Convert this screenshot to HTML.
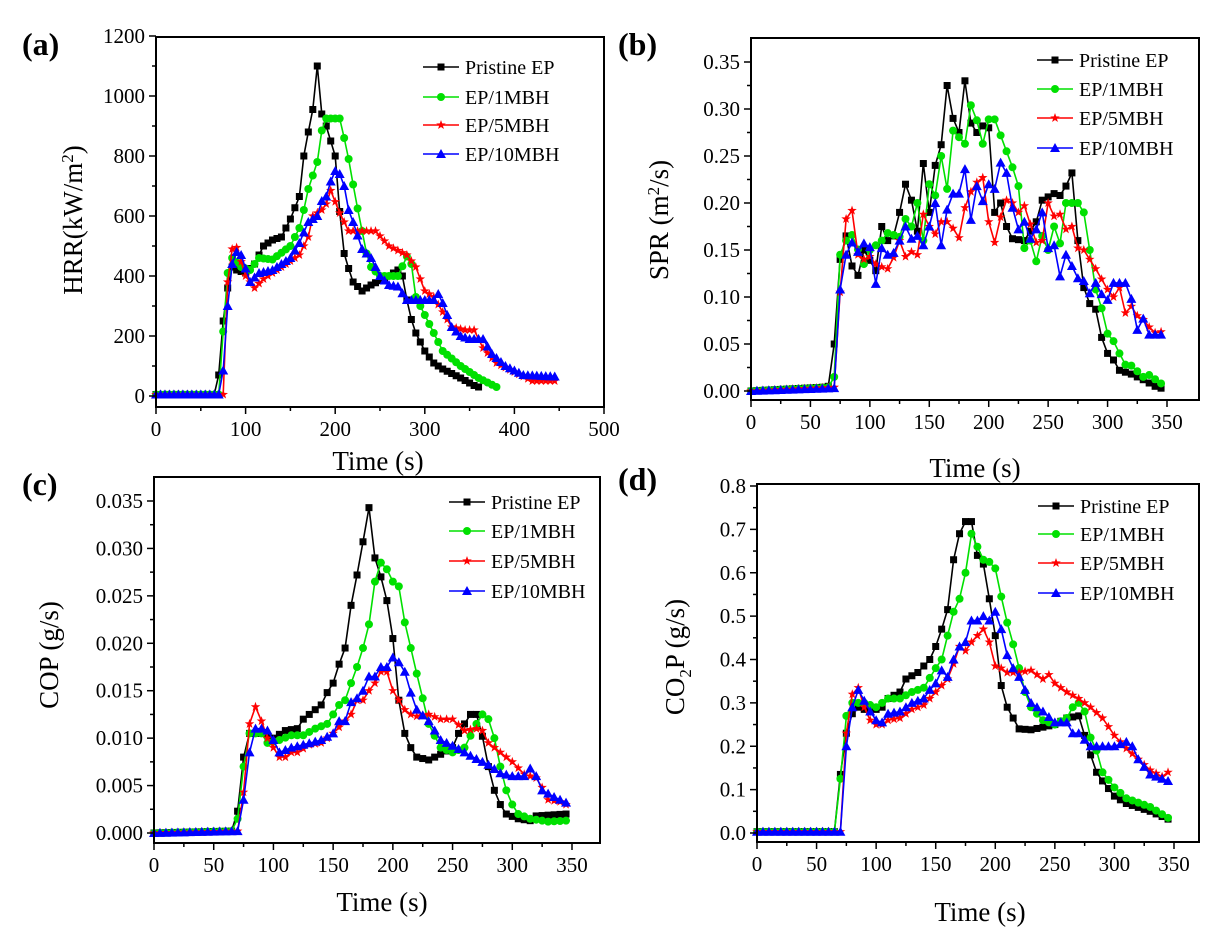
<!DOCTYPE html><html><head><meta charset="utf-8"><style>
html,body{margin:0;padding:0;background:#fff;}
svg{display:block;font-family:"Liberation Serif",serif;}
</style></head><body>
<svg id="s" width="1210" height="928" viewBox="0 0 1210 928" xmlns="http://www.w3.org/2000/svg">
<rect width="1210" height="928" fill="#fff"/>
<g font-weight="bold" font-size="32">
<text x="22" y="55">(a)</text><text x="618" y="55">(b)</text>
<text x="22" y="495">(c)</text><text x="618" y="490">(d)</text>
</g>
<g font-size="27">
<text transform="translate(82,220) rotate(-90)" text-anchor="middle">HRR(kW/m<tspan dy="-9" font-size="17">2</tspan><tspan dy="9">)</tspan></text>
<text transform="translate(668,220) rotate(-90)" text-anchor="middle">SPR (m<tspan dy="-9" font-size="17">2</tspan><tspan dy="9">/s)</tspan></text>
<text transform="translate(58,655) rotate(-90)" text-anchor="middle">COP (g/s)</text>
<text transform="translate(684,657) rotate(-90)" text-anchor="middle">CO<tspan dy="7" font-size="17">2</tspan><tspan dy="-7">P (g/s)</tspan></text>
<text x="378" y="470" text-anchor="middle">Time (s)</text>
<text x="975" y="477" text-anchor="middle">Time (s)</text>
<text x="382" y="911" text-anchor="middle">Time (s)</text>
<text x="980" y="921" text-anchor="middle">Time (s)</text>
</g>
<g id="plots"></g>
</svg>
<script>
var NS="http://www.w3.org/2000/svg",P=document.getElementById("plots");
function el(t,a,txt){var e=document.createElementNS(NS,t);for(var k in a)e.setAttribute(k,a[k]);if(txt!=null)e.textContent=txt;P.appendChild(e);return e;}
function interp(kp,t){if(t<=kp[0][0])return kp[0][1];for(var i=1;i<kp.length;i++){if(t<=kp[i][0]){var a=kp[i-1],b=kp[i];return a[1]+(b[1]-a[1])*(t-a[0])/(b[0]-a[0]);}}return null;}
var COL=["#000","#00e000","#ff0000","#0000ff"],NAMES=["Pristine EP","EP/1MBH","EP/5MBH","EP/10MBH"];
function marker(k,x,y){var c=COL[k];
 if(k==0)el("rect",{x:x-3.5,y:y-3.5,width:7,height:7,fill:c});
 else if(k==1)el("circle",{cx:x,cy:y,r:4,fill:c});
 else if(k==2){var p=[];for(var i=0;i<10;i++){var r=i%2?2:5,a=-Math.PI/2+i*Math.PI/5;p.push((x+r*Math.cos(a)).toFixed(1)+","+(y+r*Math.sin(a)).toFixed(1));}el("polygon",{points:p.join(" "),fill:c});}
 else el("polygon",{points:(x)+","+(y-5)+" "+(x-5)+","+(y+4)+" "+(x+5)+","+(y+4),fill:c});}
function panel(o){
 var X=function(v){return o.x0+(v-o.xmin)*(o.x1-o.x0)/(o.xmax-o.xmin)};
 var Y=function(v){return o.y0+(v-o.ymin)*(o.y1-o.y0)/(o.ymax-o.ymin)};
 for(var k=0;k<4;k++){var kp=o.d[k],last=kp[kp.length-1][0],pts=[];
  for(var t=0;t<=last;t+=5){pts.push([X(t),Y(interp(kp,t))]);}
  el("polyline",{points:pts.map(function(p){return p[0].toFixed(1)+","+p[1].toFixed(1)}).join(" "),fill:"none",stroke:COL[k],"stroke-width":1.6});
  pts.forEach(function(p){marker(k,p[0],p[1]);});
 }
 el("rect",{x:o.bx0,y:o.by0,width:o.bx1-o.bx0,height:o.by1-o.by0,fill:"none",stroke:"#000","stroke-width":2});
 for(var v=o.xmin;v<=o.xmax+1e-9;v+=o.xstep/2){var maj=Math.abs((v-o.xmin)/o.xstep-Math.round((v-o.xmin)/o.xstep))<1e-6;var x=X(v);
  el("line",{x1:x,y1:o.by1,x2:x,y2:o.by1+(maj?7:4),stroke:"#000","stroke-width":1.5});
  if(maj)el("text",{x:x,y:o.by1+29,"text-anchor":"middle","font-size":21},String(Math.round(v)));}
 for(var i=0;i<=o.ny*2;i++){var v=o.ymin+i*o.ystep/2,y=Y(v),maj=i%2==0;
  el("line",{x1:o.bx0,y1:y,x2:o.bx0-(maj?7:4),y2:y,stroke:"#000","stroke-width":1.5});
  if(maj)el("text",{x:o.bx0-11,y:y+7,"text-anchor":"end","font-size":21},v.toFixed(o.dec));}
 for(var k=0;k<4;k++){var ly=o.ly[k];
  el("line",{x1:o.lx,y1:ly,x2:o.lx+36,y2:ly,stroke:COL[k],"stroke-width":1.6});marker(k,o.lx+18,ly);
  el("text",{x:o.lx+42,y:ly+7,"font-size":20},NAMES[k]);}
}
panel({bx0:156,bx1:604,by0:37,by1:407,x0:156,x1:604,xmin:0,xmax:500,xstep:100,y0:396,y1:36,ymin:0,ymax:1200,ystep:200,ny:6,dec:0,lx:423,ly:[67,97,125,154],
d:[
[[0,5],[65,5],[70,70],[75,250],[80,360],[85,430],[90,420],[100,410],[110,440],[120,500],[130,520],[140,530],[150,590],[160,665],[165,800],[170,880],[175,955],[180,1100],[185,940],[190,900],[195,850],[200,800],[205,615],[210,475],[215,425],[220,380],[230,350],[240,370],[260,400],[270,420],[275,400],[280,320],[285,255],[290,210],[300,150],[310,110],[320,90],[340,60],[355,35],[360,30]],
[[0,5],[70,5],[75,215],[80,410],[85,460],[95,430],[105,420],[115,460],[130,455],[150,500],[160,560],[165,620],[170,690],[175,735],[180,780],[185,885],[190,925],[205,925],[210,860],[215,790],[220,705],[225,625],[230,550],[235,475],[240,430],[250,400],[270,400],[280,465],[285,440],[290,330],[300,270],[310,210],[320,150],[340,100],[360,60],[380,30]],
[[0,5],[75,5],[80,380],[85,490],[90,495],[100,400],[110,360],[120,390],[140,430],[160,470],[170,530],[175,600],[185,620],[190,640],[195,685],[205,610],[215,550],[230,550],[245,550],[260,500],[280,470],[290,430],[300,350],[310,330],[320,280],[330,230],[345,220],[355,220],[365,160],[380,110],[400,80],[420,50],[445,50]],
[[0,5],[70,5],[75,85],[80,300],[85,440],[90,480],[95,470],[105,380],[115,410],[130,420],[150,460],[160,510],[170,580],[180,600],[185,650],[190,665],[195,715],[200,750],[205,740],[210,700],[215,620],[220,580],[230,490],[240,460],[250,400],[260,370],[270,365],[280,320],[300,320],[310,320],[315,340],[320,310],[330,230],[340,200],[350,190],[365,190],[375,140],[390,100],[410,70],[445,65]]]});
panel({bx0:751,bx1:1199,by0:38,by1:400,x0:751,x1:1167,xmin:0,xmax:350,xstep:50,y0:391,y1:62,ymin:0,ymax:0.35,ystep:0.05,ny:7,dec:2,lx:1037,ly:[60,89,118,148],
d:[
[[0,0],[60,0.004],[65,0.005],[70,0.05],[75,0.14],[80,0.165],[85,0.133],[90,0.123],[95,0.15],[105,0.128],[110,0.175],[115,0.16],[120,0.165],[125,0.19],[130,0.22],[135,0.203],[140,0.17],[145,0.242],[150,0.19],[155,0.24],[160,0.262],[165,0.325],[170,0.29],[175,0.275],[180,0.33],[185,0.285],[190,0.275],[195,0.282],[200,0.28],[205,0.19],[210,0.2],[215,0.175],[220,0.162],[230,0.16],[240,0.18],[245,0.203],[255,0.21],[260,0.208],[265,0.218],[270,0.232],[275,0.16],[280,0.11],[285,0.093],[290,0.087],[295,0.057],[300,0.04],[305,0.033],[310,0.022],[320,0.018],[330,0.012],[340,0.005],[345,0.003]],
[[0,0],[65,0.004],[70,0.015],[75,0.145],[80,0.16],[85,0.166],[95,0.135],[100,0.15],[110,0.16],[115,0.168],[125,0.164],[130,0.183],[135,0.175],[140,0.2],[145,0.16],[150,0.22],[155,0.208],[160,0.25],[165,0.215],[170,0.277],[175,0.27],[180,0.263],[185,0.304],[190,0.288],[195,0.263],[200,0.289],[205,0.289],[210,0.272],[215,0.255],[220,0.238],[225,0.218],[230,0.152],[235,0.16],[240,0.138],[245,0.165],[250,0.15],[255,0.175],[260,0.157],[265,0.2],[275,0.2],[280,0.19],[285,0.15],[290,0.108],[295,0.088],[300,0.061],[305,0.053],[310,0.04],[315,0.028],[320,0.027],[330,0.015],[335,0.017],[345,0.008]],
[[0,0],[70,0.004],[75,0.105],[80,0.183],[85,0.192],[90,0.145],[95,0.14],[100,0.143],[105,0.135],[110,0.132],[115,0.13],[120,0.142],[125,0.16],[130,0.143],[135,0.148],[140,0.145],[145,0.188],[150,0.175],[155,0.167],[160,0.18],[165,0.18],[170,0.173],[175,0.163],[180,0.195],[185,0.212],[190,0.222],[195,0.227],[200,0.18],[205,0.158],[210,0.185],[215,0.203],[220,0.2],[225,0.19],[230,0.197],[240,0.158],[245,0.16],[250,0.2],[255,0.186],[260,0.188],[265,0.172],[270,0.175],[275,0.152],[280,0.15],[290,0.13],[300,0.108],[305,0.1],[310,0.11],[315,0.083],[320,0.09],[325,0.08],[330,0.076],[335,0.068],[340,0.062],[345,0.063]],
[[0,0],[70,0.003],[75,0.108],[80,0.145],[85,0.158],[90,0.148],[95,0.157],[100,0.153],[105,0.114],[110,0.152],[115,0.145],[120,0.147],[125,0.16],[130,0.175],[135,0.162],[140,0.165],[145,0.155],[150,0.175],[155,0.2],[160,0.155],[165,0.193],[170,0.21],[175,0.21],[180,0.236],[185,0.182],[190,0.218],[195,0.202],[200,0.22],[205,0.215],[210,0.243],[215,0.232],[220,0.195],[225,0.172],[230,0.18],[235,0.162],[240,0.172],[245,0.19],[250,0.152],[255,0.155],[260,0.122],[265,0.145],[270,0.133],[275,0.12],[280,0.117],[285,0.104],[290,0.115],[295,0.103],[300,0.097],[305,0.115],[310,0.115],[315,0.115],[320,0.098],[325,0.065],[330,0.077],[335,0.06],[340,0.06],[345,0.06]]]});
panel({bx0:154,bx1:600,by0:477,by1:843,x0:154,x1:572,xmin:0,xmax:350,xstep:50,y0:833,y1:501,ymin:0,ymax:0.035,ystep:0.005,ny:7,dec:3,lx:449,ly:[502,531,561,591],
d:[
[[0,0],[65,0.0002],[70,0.0023],[75,0.008],[80,0.0105],[90,0.0105],[100,0.01],[110,0.0108],[120,0.011],[125,0.012],[130,0.0125],[140,0.0135],[145,0.0148],[150,0.0158],[155,0.0178],[160,0.0195],[165,0.024],[170,0.0272],[175,0.0307],[180,0.0343],[185,0.029],[190,0.027],[195,0.0245],[200,0.0205],[205,0.014],[210,0.0105],[215,0.009],[220,0.008],[230,0.0077],[240,0.0083],[250,0.009],[255,0.0105],[260,0.0115],[265,0.0125],[270,0.0125],[275,0.0102],[280,0.007],[285,0.0045],[290,0.003],[295,0.002],[305,0.0015],[315,0.0013],[320,0.0018],[345,0.002]],
[[0,0],[65,0.0002],[70,0.0015],[75,0.007],[80,0.0105],[90,0.0105],[95,0.0095],[105,0.0098],[115,0.0103],[125,0.0103],[135,0.011],[145,0.0115],[150,0.0125],[155,0.0135],[160,0.014],[165,0.0158],[170,0.0175],[175,0.0195],[180,0.022],[185,0.0265],[190,0.0285],[195,0.0278],[200,0.0265],[205,0.026],[210,0.0222],[215,0.0195],[220,0.0168],[225,0.0142],[230,0.0115],[240,0.009],[250,0.0085],[260,0.009],[270,0.0115],[275,0.0125],[280,0.012],[285,0.01],[290,0.007],[295,0.0045],[300,0.003],[305,0.002],[315,0.0015],[330,0.0012],[345,0.0013]],
[[0,0],[70,0.0002],[75,0.0043],[80,0.0115],[85,0.0133],[90,0.0118],[95,0.01],[100,0.009],[105,0.008],[110,0.008],[115,0.0085],[120,0.0085],[130,0.0093],[140,0.0095],[150,0.0105],[160,0.0118],[165,0.0125],[170,0.014],[175,0.014],[180,0.015],[185,0.0158],[190,0.017],[195,0.017],[200,0.015],[205,0.014],[210,0.013],[215,0.0125],[220,0.0123],[230,0.0125],[240,0.012],[250,0.012],[260,0.0108],[270,0.011],[275,0.0108],[280,0.0095],[290,0.0085],[300,0.0075],[310,0.0062],[320,0.0058],[325,0.0048],[330,0.0035],[340,0.0033],[345,0.003]],
[[0,0],[70,0.0002],[75,0.0035],[80,0.0085],[85,0.011],[90,0.011],[95,0.0108],[100,0.0098],[105,0.0085],[115,0.009],[125,0.0093],[140,0.0098],[150,0.0105],[155,0.0118],[160,0.0118],[165,0.0138],[170,0.0142],[175,0.015],[180,0.0165],[185,0.0165],[190,0.0175],[195,0.0175],[200,0.0185],[205,0.018],[210,0.017],[215,0.0148],[220,0.013],[230,0.0118],[240,0.0098],[250,0.0092],[260,0.0085],[270,0.0078],[280,0.0072],[290,0.0063],[300,0.006],[310,0.006],[315,0.0068],[320,0.006],[325,0.0045],[335,0.0038],[345,0.0032]]]});
panel({bx0:757,bx1:1199,by0:484,by1:842,x0:757,x1:1174,xmin:0,xmax:350,xstep:50,y0:833,y1:486,ymin:0,ymax:0.8,ystep:0.1,ny:8,dec:1,lx:1038,ly:[506,534,563,593],
d:[
[[0,0.003],[65,0.003],[70,0.135],[75,0.23],[80,0.275],[85,0.29],[95,0.28],[105,0.29],[110,0.31],[120,0.325],[125,0.355],[135,0.37],[140,0.385],[145,0.4],[150,0.43],[155,0.47],[160,0.515],[165,0.63],[170,0.69],[175,0.718],[180,0.718],[185,0.64],[190,0.62],[195,0.54],[200,0.455],[205,0.34],[210,0.29],[215,0.265],[220,0.24],[230,0.238],[250,0.25],[260,0.265],[270,0.27],[275,0.225],[280,0.18],[285,0.14],[290,0.12],[300,0.085],[310,0.068],[330,0.05],[345,0.032]],
[[0,0.003],[65,0.003],[70,0.125],[75,0.27],[80,0.3],[90,0.3],[100,0.29],[110,0.31],[120,0.31],[130,0.325],[140,0.335],[150,0.38],[155,0.4],[160,0.455],[165,0.51],[170,0.54],[175,0.6],[180,0.69],[185,0.66],[190,0.63],[195,0.625],[200,0.61],[205,0.545],[210,0.485],[215,0.435],[220,0.38],[225,0.325],[230,0.29],[240,0.26],[250,0.25],[260,0.265],[265,0.29],[270,0.3],[275,0.28],[280,0.22],[285,0.19],[290,0.14],[300,0.105],[310,0.08],[330,0.06],[345,0.035]],
[[0,0.003],[70,0.003],[75,0.23],[80,0.32],[85,0.335],[90,0.29],[95,0.26],[100,0.25],[105,0.25],[110,0.26],[120,0.265],[130,0.285],[140,0.295],[150,0.325],[160,0.355],[165,0.39],[170,0.43],[175,0.42],[180,0.44],[185,0.455],[190,0.47],[195,0.44],[200,0.385],[205,0.38],[210,0.37],[220,0.37],[230,0.375],[240,0.355],[245,0.365],[250,0.345],[260,0.325],[270,0.31],[280,0.29],[290,0.265],[300,0.225],[310,0.195],[320,0.17],[330,0.145],[340,0.13],[345,0.14]],
[[0,0.003],[70,0.003],[75,0.2],[80,0.29],[85,0.33],[90,0.305],[95,0.28],[100,0.26],[105,0.255],[110,0.275],[120,0.28],[130,0.3],[140,0.31],[145,0.33],[150,0.345],[155,0.375],[160,0.36],[165,0.4],[170,0.43],[175,0.44],[180,0.49],[185,0.49],[190,0.5],[195,0.49],[200,0.51],[205,0.47],[210,0.41],[215,0.38],[220,0.36],[225,0.33],[230,0.3],[240,0.28],[250,0.255],[260,0.255],[265,0.23],[270,0.23],[280,0.2],[290,0.2],[300,0.2],[310,0.21],[315,0.2],[320,0.17],[330,0.135],[345,0.12]]]});
</script>
</body></html>
